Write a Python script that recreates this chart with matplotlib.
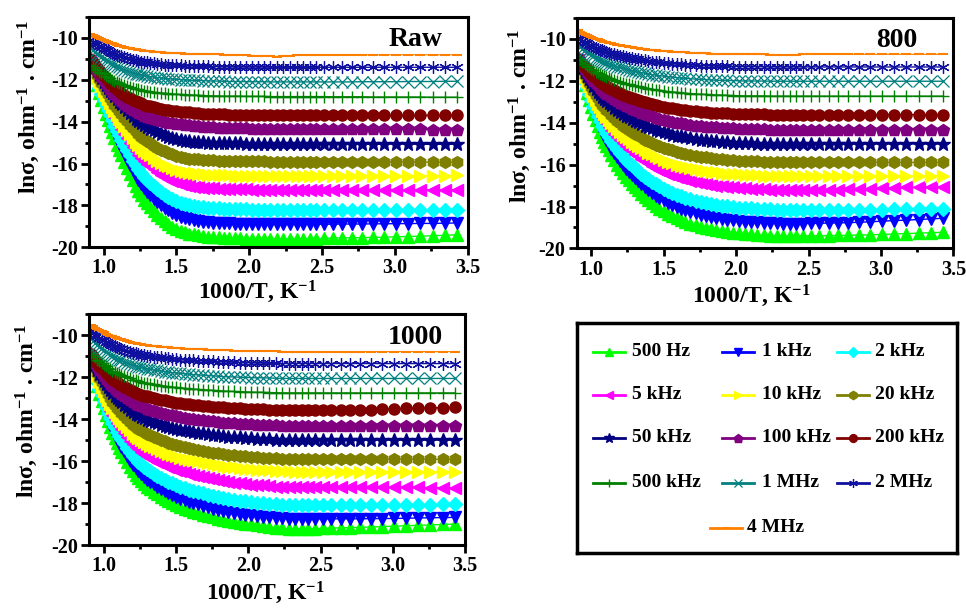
import matplotlib
matplotlib.use('Agg')
import matplotlib.pyplot as plt
from matplotlib.ticker import MultipleLocator

plt.rcParams['font.family'] = ['Liberation Serif', 'DejaVu Serif']
plt.rcParams['font.weight'] = 'bold'
plt.rcParams['mathtext.fontset'] = 'custom'
plt.rcParams['mathtext.rm'] = 'Liberation Serif:bold'
plt.rcParams['mathtext.it'] = 'Liberation Serif:bold:italic'
plt.rcParams['mathtext.bf'] = 'Liberation Serif:bold'
plt.rcParams['mathtext.default'] = 'rm'
plt.rcParams['axes.unicode_minus'] = False

# ---------------- data ----------------
inv_T = [0.91, 0.925, 0.94, 0.955, 0.97, 0.985, 1.00, 1.015, 1.03, 1.045,
         1.06, 1.075, 1.09, 1.105, 1.12, 1.14, 1.16, 1.18, 1.20, 1.22,
         1.24, 1.26, 1.28, 1.30, 1.32, 1.345, 1.37, 1.395, 1.42, 1.445,
         1.47, 1.50, 1.53, 1.56, 1.59, 1.62, 1.65, 1.685, 1.72, 1.755,
         1.79, 1.825, 1.86, 1.90, 1.94, 1.98, 2.02, 2.06, 2.10, 2.145,
         2.19, 2.235, 2.28, 2.325, 2.37, 2.415, 2.46, 2.515, 2.575, 2.64,
         2.705, 2.775, 2.85, 2.925, 3.005, 3.09, 3.175, 3.26, 3.345, 3.43]

freq_labels = ['500 Hz', '1 kHz', '2 kHz', '5 kHz', '10 kHz', '20 kHz', '50 kHz',
               '100 kHz', '200 kHz', '500 kHz', '1 MHz', '2 MHz', '4 MHz']
panel_labels = ['Raw', '800', '1000']

# ---- Raw ----
raw_500hz = [-11.10, -11.49, -11.87, -12.25, -12.63, -12.97, -13.31, -13.61, -13.91, -14.21,
             -14.50, -14.80, -15.10, -15.36, -15.61, -15.91, -16.20, -16.50, -16.80, -17.06,
             -17.31, -17.52, -17.73, -17.90, -18.07, -18.27, -18.45, -18.61, -18.75, -18.89,
             -19.01, -19.12, -19.22, -19.29, -19.35, -19.39, -19.43, -19.46, -19.49, -19.51,
             -19.53, -19.55, -19.56, -19.57, -19.57, -19.59, -19.60, -19.60, -19.60, -19.61,
             -19.61, -19.61, -19.60, -19.60, -19.60, -19.60, -19.59, -19.58, -19.56, -19.55,
             -19.55, -19.54, -19.53, -19.52, -19.50, -19.49, -19.47, -19.45, -19.43, -19.40]
raw_1khz = [-11.10, -11.45, -11.80, -12.15, -12.50, -12.82, -13.13, -13.40, -13.67, -13.95,
            -14.22, -14.50, -14.77, -15.00, -15.23, -15.51, -15.78, -16.06, -16.33, -16.56,
            -16.79, -16.99, -17.18, -17.34, -17.50, -17.68, -17.85, -17.99, -18.12, -18.24,
            -18.35, -18.45, -18.55, -18.61, -18.67, -18.71, -18.74, -18.77, -18.80, -18.82,
            -18.84, -18.85, -18.86, -18.87, -18.88, -18.89, -18.90, -18.90, -18.90, -18.91,
            -18.91, -18.91, -18.91, -18.91, -18.90, -18.90, -18.90, -18.90, -18.90, -18.89,
            -18.89, -18.89, -18.88, -18.88, -18.87, -18.87, -18.86, -18.86, -18.85, -18.84]
raw_2khz = [-11.10, -11.42, -11.74, -12.06, -12.38, -12.67, -12.95, -13.20, -13.44, -13.69,
            -13.94, -14.19, -14.44, -14.65, -14.86, -15.11, -15.36, -15.61, -15.86, -16.07,
            -16.28, -16.46, -16.64, -16.78, -16.92, -17.08, -17.24, -17.37, -17.49, -17.60,
            -17.70, -17.79, -17.88, -17.94, -17.99, -18.03, -18.06, -18.09, -18.11, -18.13,
            -18.14, -18.15, -18.16, -18.17, -18.18, -18.19, -18.20, -18.20, -18.20, -18.20,
            -18.20, -18.21, -18.21, -18.21, -18.21, -18.21, -18.20, -18.20, -18.20, -18.20,
            -18.20, -18.20, -18.20, -18.20, -18.20, -18.20, -18.20, -18.20, -18.20, -18.20]
raw_5khz = [-11.10, -11.38, -11.65, -11.93, -12.21, -12.46, -12.70, -12.92, -13.13, -13.35,
            -13.56, -13.78, -13.99, -14.18, -14.36, -14.58, -14.79, -15.01, -15.22, -15.41,
            -15.59, -15.75, -15.90, -16.02, -16.14, -16.28, -16.42, -16.53, -16.64, -16.73,
            -16.82, -16.90, -16.97, -17.02, -17.07, -17.10, -17.13, -17.15, -17.17, -17.19,
            -17.20, -17.21, -17.22, -17.23, -17.23, -17.24, -17.25, -17.25, -17.25, -17.26,
            -17.26, -17.26, -17.26, -17.26, -17.26, -17.26, -17.25, -17.25, -17.25, -17.25,
            -17.25, -17.25, -17.25, -17.25, -17.25, -17.25, -17.25, -17.25, -17.25, -17.25]
raw_10khz = [-11.10, -11.35, -11.60, -11.85, -12.09, -12.31, -12.53, -12.73, -12.92, -13.11,
             -13.30, -13.50, -13.69, -13.86, -14.02, -14.21, -14.40, -14.60, -14.79, -14.96,
             -15.12, -15.26, -15.39, -15.50, -15.61, -15.74, -15.86, -15.96, -16.05, -16.14,
             -16.22, -16.29, -16.35, -16.40, -16.44, -16.47, -16.49, -16.51, -16.53, -16.55,
             -16.56, -16.57, -16.57, -16.58, -16.58, -16.59, -16.60, -16.60, -16.60, -16.60,
             -16.60, -16.60, -16.60, -16.60, -16.60, -16.60, -16.60, -16.60, -16.60, -16.60,
             -16.60, -16.60, -16.60, -16.60, -16.59, -16.59, -16.58, -16.58, -16.58, -16.57]
raw_20khz = [-11.10, -11.32, -11.53, -11.75, -11.96, -12.16, -12.35, -12.52, -12.68, -12.85,
             -13.02, -13.19, -13.36, -13.50, -13.64, -13.81, -13.98, -14.15, -14.32, -14.46,
             -14.60, -14.72, -14.84, -14.94, -15.04, -15.15, -15.25, -15.34, -15.42, -15.49,
             -15.56, -15.62, -15.68, -15.72, -15.76, -15.78, -15.80, -15.82, -15.84, -15.85,
             -15.86, -15.87, -15.88, -15.89, -15.89, -15.90, -15.90, -15.90, -15.90, -15.91,
             -15.91, -15.91, -15.91, -15.91, -15.91, -15.91, -15.91, -15.91, -15.91, -15.91,
             -15.92, -15.92, -15.92, -15.92, -15.92, -15.92, -15.93, -15.93, -15.93, -15.93]
raw_50khz = [-11.05, -11.23, -11.41, -11.59, -11.77, -11.93, -12.09, -12.23, -12.37, -12.51,
             -12.65, -12.79, -12.93, -13.05, -13.17, -13.31, -13.45, -13.59, -13.73, -13.85,
             -13.97, -14.07, -14.17, -14.25, -14.33, -14.42, -14.51, -14.58, -14.65, -14.71,
             -14.77, -14.82, -14.87, -14.90, -14.93, -14.95, -14.97, -14.99, -15.00, -15.01,
             -15.02, -15.03, -15.03, -15.04, -15.04, -15.05, -15.05, -15.05, -15.05, -15.05,
             -15.05, -15.05, -15.05, -15.06, -15.06, -15.06, -15.06, -15.06, -15.06, -15.06,
             -15.06, -15.07, -15.07, -15.07, -15.07, -15.07, -15.08, -15.08, -15.08, -15.08]
raw_100khz = [-11.05, -11.22, -11.39, -11.56, -11.72, -11.88, -12.03, -12.17, -12.30, -12.44,
              -12.58, -12.70, -12.82, -12.93, -13.03, -13.14, -13.25, -13.34, -13.43, -13.51,
              -13.59, -13.65, -13.71, -13.77, -13.83, -13.88, -13.92, -13.97, -14.01, -14.04,
              -14.07, -14.10, -14.13, -14.16, -14.18, -14.20, -14.21, -14.23, -14.25, -14.27,
              -14.28, -14.29, -14.30, -14.31, -14.31, -14.32, -14.33, -14.34, -14.34, -14.35,
              -14.35, -14.35, -14.35, -14.35, -14.35, -14.36, -14.36, -14.36, -14.36, -14.36,
              -14.36, -14.36, -14.37, -14.37, -14.37, -14.37, -14.37, -14.38, -14.38, -14.38]
raw_200khz = [-11.00, -11.14, -11.28, -11.42, -11.55, -11.68, -11.80, -11.91, -12.02, -12.14,
              -12.25, -12.35, -12.45, -12.54, -12.62, -12.71, -12.80, -12.88, -12.95, -13.02,
              -13.08, -13.13, -13.18, -13.23, -13.27, -13.31, -13.35, -13.39, -13.42, -13.45,
              -13.47, -13.50, -13.52, -13.54, -13.56, -13.58, -13.59, -13.61, -13.62, -13.63,
              -13.64, -13.65, -13.66, -13.67, -13.67, -13.68, -13.68, -13.69, -13.69, -13.70,
              -13.70, -13.70, -13.70, -13.70, -13.70, -13.70, -13.70, -13.70, -13.70, -13.70,
              -13.70, -13.70, -13.70, -13.70, -13.70, -13.70, -13.70, -13.70, -13.70, -13.70]
raw_500khz = [-11.30, -11.38, -11.46, -11.54, -11.61, -11.68, -11.74, -11.81, -11.87, -11.93,
              -11.99, -12.05, -12.11, -12.16, -12.20, -12.25, -12.30, -12.34, -12.38, -12.42,
              -12.46, -12.49, -12.51, -12.54, -12.56, -12.59, -12.61, -12.63, -12.64, -12.66,
              -12.67, -12.69, -12.70, -12.71, -12.72, -12.73, -12.74, -12.75, -12.76, -12.77,
              -12.77, -12.78, -12.78, -12.78, -12.78, -12.79, -12.79, -12.79, -12.79, -12.80,
              -12.80, -12.80, -12.80, -12.80, -12.80, -12.80, -12.80, -12.80, -12.81, -12.81,
              -12.81, -12.81, -12.82, -12.82, -12.82, -12.82, -12.82, -12.83, -12.83, -12.83]
raw_1mhz = [-10.50, -10.59, -10.67, -10.75, -10.83, -10.90, -10.97, -11.04, -11.11, -11.18,
            -11.24, -11.30, -11.36, -11.41, -11.46, -11.52, -11.57, -11.62, -11.66, -11.70,
            -11.73, -11.76, -11.79, -11.82, -11.85, -11.87, -11.89, -11.91, -11.93, -11.95,
            -11.96, -11.98, -11.99, -12.01, -12.02, -12.03, -12.03, -12.04, -12.05, -12.06,
            -12.06, -12.07, -12.08, -12.08, -12.08, -12.09, -12.09, -12.09, -12.09, -12.10,
            -12.10, -12.10, -12.10, -12.10, -12.10, -12.10, -12.10, -12.10, -12.10, -12.10,
            -12.10, -12.09, -12.09, -12.09, -12.09, -12.08, -12.08, -12.08, -12.07, -12.07]
raw_2mhz = [-10.10, -10.17, -10.24, -10.31, -10.37, -10.43, -10.49, -10.54, -10.59, -10.65,
            -10.70, -10.75, -10.80, -10.84, -10.88, -10.93, -10.97, -11.01, -11.04, -11.07,
            -11.10, -11.13, -11.15, -11.17, -11.19, -11.21, -11.23, -11.25, -11.27, -11.28,
            -11.29, -11.30, -11.31, -11.32, -11.33, -11.34, -11.35, -11.36, -11.36, -11.37,
            -11.37, -11.38, -11.38, -11.39, -11.39, -11.39, -11.39, -11.39, -11.39, -11.40,
            -11.40, -11.40, -11.40, -11.40, -11.40, -11.40, -11.40, -11.40, -11.40, -11.40,
            -11.40, -11.40, -11.40, -11.40, -11.40, -11.40, -11.40, -11.40, -11.40, -11.40]
raw_4mhz = [-9.80, -9.85, -9.90, -9.94, -9.98, -10.04, -10.10, -10.14, -10.18, -10.22,
            -10.26, -10.30, -10.34, -10.37, -10.40, -10.44, -10.47, -10.50, -10.52, -10.55,
            -10.57, -10.59, -10.61, -10.63, -10.64, -10.66, -10.67, -10.69, -10.70, -10.71,
            -10.72, -10.73, -10.74, -10.75, -10.75, -10.76, -10.76, -10.77, -10.77, -10.78,
            -10.78, -10.79, -10.80, -10.81, -10.82, -10.83, -10.84, -10.85, -10.85, -10.88,
            -10.90, -10.87, -10.84, -10.83, -10.82, -10.81, -10.80, -10.80, -10.80, -10.80,
            -10.80, -10.80, -10.80, -10.80, -10.80, -10.80, -10.80, -10.80, -10.80, -10.80]

# ---- 800 ----
s800_500hz = [-11.00, -11.43, -11.84, -12.23, -12.60, -12.94, -13.27, -13.59, -13.90, -14.18,
              -14.44, -14.68, -14.91, -15.12, -15.33, -15.56, -15.79, -16.00, -16.21, -16.40,
              -16.59, -16.76, -16.92, -17.07, -17.22, -17.39, -17.55, -17.70, -17.85, -17.98,
              -18.10, -18.23, -18.35, -18.46, -18.56, -18.65, -18.73, -18.82, -18.90, -18.96,
              -19.02, -19.08, -19.13, -19.18, -19.22, -19.25, -19.28, -19.31, -19.33, -19.35,
              -19.37, -19.39, -19.40, -19.41, -19.41, -19.41, -19.41, -19.40, -19.40, -19.39,
              -19.38, -19.37, -19.36, -19.35, -19.33, -19.31, -19.29, -19.27, -19.25, -19.23]
s800_1khz = [-11.00, -11.40, -11.78, -12.14, -12.48, -12.80, -13.11, -13.41, -13.69, -13.95,
             -14.20, -14.42, -14.63, -14.83, -15.02, -15.24, -15.45, -15.65, -15.84, -16.02,
             -16.19, -16.35, -16.50, -16.64, -16.77, -16.93, -17.08, -17.22, -17.36, -17.48,
             -17.59, -17.71, -17.83, -17.93, -18.02, -18.10, -18.18, -18.26, -18.33, -18.39,
             -18.45, -18.50, -18.55, -18.59, -18.63, -18.66, -18.69, -18.72, -18.74, -18.76,
             -18.77, -18.79, -18.80, -18.81, -18.81, -18.81, -18.81, -18.80, -18.80, -18.79,
             -18.78, -18.77, -18.75, -18.73, -18.70, -18.67, -18.65, -18.62, -18.59, -18.56]
s800_2khz = [-11.00, -11.37, -11.72, -12.05, -12.36, -12.65, -12.93, -13.21, -13.47, -13.71,
             -13.93, -14.14, -14.33, -14.51, -14.68, -14.89, -15.08, -15.26, -15.43, -15.60,
             -15.76, -15.91, -16.04, -16.17, -16.29, -16.44, -16.58, -16.71, -16.83, -16.94,
             -17.04, -17.15, -17.26, -17.35, -17.44, -17.51, -17.58, -17.65, -17.72, -17.78,
             -17.83, -17.88, -17.92, -17.96, -17.99, -18.02, -18.05, -18.07, -18.09, -18.11,
             -18.12, -18.14, -18.15, -18.15, -18.15, -18.16, -18.16, -18.16, -18.16, -18.16,
             -18.15, -18.15, -18.15, -18.15, -18.15, -18.14, -18.14, -18.14, -18.13, -18.13]
s800_5khz = [-11.00, -11.32, -11.62, -11.91, -12.18, -12.43, -12.67, -12.91, -13.14, -13.35,
             -13.54, -13.72, -13.88, -14.04, -14.19, -14.37, -14.53, -14.69, -14.84, -14.98,
             -15.12, -15.25, -15.37, -15.48, -15.59, -15.72, -15.84, -15.95, -16.05, -16.15,
             -16.24, -16.34, -16.43, -16.51, -16.58, -16.64, -16.70, -16.77, -16.83, -16.88,
             -16.92, -16.96, -17.00, -17.03, -17.06, -17.09, -17.11, -17.13, -17.15, -17.17,
             -17.18, -17.19, -17.20, -17.21, -17.21, -17.21, -17.21, -17.21, -17.21, -17.20,
             -17.19, -17.18, -17.17, -17.15, -17.13, -17.11, -17.09, -17.08, -17.06, -17.05]
s800_10khz = [-11.00, -11.29, -11.56, -11.81, -12.05, -12.28, -12.50, -12.71, -12.92, -13.10,
              -13.28, -13.43, -13.58, -13.72, -13.86, -14.01, -14.16, -14.30, -14.44, -14.57,
              -14.69, -14.80, -14.91, -15.01, -15.11, -15.22, -15.33, -15.43, -15.52, -15.61,
              -15.69, -15.78, -15.86, -15.93, -16.00, -16.06, -16.11, -16.17, -16.22, -16.26,
              -16.30, -16.34, -16.37, -16.40, -16.43, -16.45, -16.47, -16.49, -16.51, -16.52,
              -16.53, -16.54, -16.55, -16.55, -16.55, -16.55, -16.55, -16.55, -16.55, -16.55,
              -16.55, -16.55, -16.55, -16.55, -16.55, -16.55, -16.54, -16.54, -16.54, -16.54]
s800_20khz = [-11.00, -11.25, -11.49, -11.72, -11.93, -12.13, -12.32, -12.50, -12.68, -12.84,
              -13.00, -13.14, -13.27, -13.39, -13.51, -13.65, -13.78, -13.91, -14.03, -14.14,
              -14.25, -14.35, -14.44, -14.53, -14.61, -14.71, -14.81, -14.90, -14.98, -15.05,
              -15.12, -15.20, -15.27, -15.33, -15.39, -15.44, -15.49, -15.54, -15.59, -15.63,
              -15.66, -15.69, -15.72, -15.75, -15.77, -15.79, -15.81, -15.83, -15.84, -15.85,
              -15.86, -15.87, -15.88, -15.88, -15.88, -15.88, -15.88, -15.88, -15.88, -15.88,
              -15.89, -15.89, -15.89, -15.89, -15.89, -15.90, -15.90, -15.90, -15.90, -15.90]
s800_50khz = [-11.00, -11.20, -11.40, -11.58, -11.76, -11.93, -12.09, -12.24, -12.39, -12.52,
              -12.65, -12.76, -12.87, -12.97, -13.07, -13.18, -13.29, -13.39, -13.49, -13.58,
              -13.67, -13.75, -13.83, -13.91, -13.98, -14.06, -14.14, -14.21, -14.28, -14.34,
              -14.40, -14.46, -14.52, -14.57, -14.62, -14.66, -14.70, -14.74, -14.78, -14.81,
              -14.84, -14.87, -14.89, -14.91, -14.93, -14.95, -14.96, -14.98, -14.99, -15.00,
              -15.00, -15.01, -15.02, -15.02, -15.02, -15.02, -15.02, -15.02, -15.02, -15.02,
              -15.02, -15.02, -15.02, -15.02, -15.02, -15.02, -15.02, -15.02, -15.02, -15.02]
s800_100khz = [-10.95, -11.12, -11.29, -11.44, -11.59, -11.73, -11.87, -12.00, -12.12, -12.23,
               -12.34, -12.44, -12.53, -12.62, -12.70, -12.79, -12.88, -12.97, -13.05, -13.13,
               -13.20, -13.27, -13.34, -13.40, -13.46, -13.53, -13.59, -13.65, -13.71, -13.77,
               -13.82, -13.87, -13.92, -13.96, -14.00, -14.04, -14.07, -14.11, -14.14, -14.17,
               -14.19, -14.21, -14.23, -14.25, -14.27, -14.28, -14.29, -14.30, -14.31, -14.32,
               -14.33, -14.34, -14.34, -14.34, -14.34, -14.34, -14.34, -14.34, -14.34, -14.34,
               -14.34, -14.34, -14.34, -14.34, -14.34, -14.34, -14.34, -14.34, -14.34, -14.34]
s800_200khz = [-10.95, -11.09, -11.22, -11.34, -11.46, -11.57, -11.67, -11.77, -11.87, -11.96,
               -12.05, -12.12, -12.19, -12.26, -12.33, -12.40, -12.47, -12.54, -12.61, -12.67,
               -12.73, -12.78, -12.83, -12.88, -12.93, -12.98, -13.03, -13.08, -13.13, -13.17,
               -13.21, -13.25, -13.29, -13.32, -13.35, -13.38, -13.41, -13.44, -13.46, -13.48,
               -13.50, -13.52, -13.54, -13.55, -13.56, -13.57, -13.58, -13.59, -13.60, -13.61,
               -13.61, -13.62, -13.62, -13.62, -13.62, -13.62, -13.62, -13.62, -13.62, -13.62,
               -13.62, -13.62, -13.62, -13.62, -13.62, -13.62, -13.62, -13.62, -13.62, -13.62]
s800_500khz = [-10.95, -11.04, -11.13, -11.21, -11.29, -11.36, -11.43, -11.50, -11.57, -11.63,
               -11.68, -11.73, -11.78, -11.83, -11.87, -11.92, -11.97, -12.02, -12.06, -12.10,
               -12.14, -12.18, -12.21, -12.25, -12.28, -12.32, -12.35, -12.38, -12.41, -12.44,
               -12.46, -12.49, -12.52, -12.54, -12.56, -12.58, -12.60, -12.62, -12.63, -12.65,
               -12.66, -12.67, -12.68, -12.69, -12.70, -12.71, -12.72, -12.73, -12.73, -12.73,
               -12.73, -12.74, -12.74, -12.74, -12.74, -12.74, -12.74, -12.74, -12.74, -12.74,
               -12.74, -12.74, -12.74, -12.74, -12.74, -12.74, -12.74, -12.74, -12.74, -12.74]
s800_1mhz = [-10.30, -10.39, -10.47, -10.55, -10.63, -10.70, -10.77, -10.84, -10.90, -10.96,
             -11.01, -11.06, -11.10, -11.15, -11.19, -11.24, -11.29, -11.33, -11.37, -11.41,
             -11.45, -11.49, -11.52, -11.55, -11.58, -11.62, -11.65, -11.68, -11.71, -11.74,
             -11.76, -11.79, -11.81, -11.84, -11.86, -11.88, -11.89, -11.91, -11.93, -11.94,
             -11.95, -11.97, -11.98, -11.99, -11.99, -12.00, -12.01, -12.02, -12.02, -12.02,
             -12.02, -12.03, -12.03, -12.03, -12.03, -12.03, -12.03, -12.03, -12.03, -12.03,
             -12.03, -12.03, -12.03, -12.03, -12.03, -12.03, -12.03, -12.03, -12.03, -12.03]
s800_2mhz = [-9.95, -10.02, -10.09, -10.16, -10.22, -10.28, -10.33, -10.38, -10.43, -10.48,
             -10.52, -10.56, -10.60, -10.64, -10.67, -10.71, -10.75, -10.79, -10.82, -10.85,
             -10.88, -10.91, -10.94, -10.97, -10.99, -11.02, -11.04, -11.07, -11.09, -11.11,
             -11.13, -11.16, -11.18, -11.20, -11.21, -11.23, -11.24, -11.26, -11.27, -11.28,
             -11.29, -11.30, -11.31, -11.32, -11.32, -11.33, -11.33, -11.34, -11.34, -11.34,
             -11.34, -11.35, -11.35, -11.35, -11.35, -11.35, -11.35, -11.35, -11.35, -11.35,
             -11.35, -11.35, -11.35, -11.35, -11.35, -11.35, -11.35, -11.35, -11.35, -11.35]
s800_4mhz = [-9.60, -9.66, -9.72, -9.77, -9.82, -9.87, -9.91, -9.96, -10.00, -10.04,
             -10.07, -10.11, -10.14, -10.17, -10.19, -10.23, -10.26, -10.29, -10.31, -10.34,
             -10.37, -10.39, -10.41, -10.43, -10.45, -10.48, -10.50, -10.52, -10.54, -10.56,
             -10.57, -10.59, -10.61, -10.63, -10.64, -10.65, -10.66, -10.67, -10.68, -10.69,
             -10.70, -10.71, -10.71, -10.72, -10.73, -10.73, -10.73, -10.74, -10.74, -10.75,
             -10.75, -10.76, -10.77, -10.77, -10.76, -10.76, -10.75, -10.75, -10.75, -10.75,
             -10.75, -10.75, -10.75, -10.75, -10.75, -10.75, -10.75, -10.75, -10.75, -10.75]

# ---- 1000 ----
s1000_500hz = [-11.10, -11.56, -11.99, -12.40, -12.80, -13.13, -13.45, -13.78, -14.10, -14.38,
               -14.66, -14.91, -15.15, -15.36, -15.56, -15.80, -16.04, -16.27, -16.49, -16.65,
               -16.81, -16.95, -17.09, -17.22, -17.34, -17.46, -17.58, -17.70, -17.81, -17.91,
               -18.00, -18.10, -18.19, -18.27, -18.35, -18.41, -18.47, -18.55, -18.62, -18.68,
               -18.74, -18.80, -18.85, -18.90, -18.94, -18.98, -19.02, -19.06, -19.10, -19.14,
               -19.17, -19.20, -19.22, -19.23, -19.24, -19.23, -19.22, -19.21, -19.19, -19.18,
               -19.17, -19.15, -19.14, -19.12, -19.10, -19.08, -19.06, -19.04, -19.02, -19.00]
s1000_1khz = [-11.10, -11.53, -11.94, -12.33, -12.71, -13.02, -13.32, -13.63, -13.93, -14.20,
              -14.47, -14.70, -14.93, -15.12, -15.31, -15.54, -15.77, -15.98, -16.19, -16.34,
              -16.49, -16.63, -16.76, -16.88, -16.99, -17.11, -17.22, -17.33, -17.43, -17.53,
              -17.62, -17.71, -17.79, -17.87, -17.95, -18.01, -18.06, -18.13, -18.20, -18.26,
              -18.31, -18.37, -18.42, -18.47, -18.51, -18.55, -18.58, -18.61, -18.64, -18.67,
              -18.70, -18.72, -18.74, -18.75, -18.75, -18.75, -18.75, -18.75, -18.75, -18.75,
              -18.75, -18.75, -18.74, -18.74, -18.73, -18.72, -18.71, -18.70, -18.69, -18.68]
s1000_2khz = [-11.10, -11.49, -11.87, -12.23, -12.57, -12.85, -13.13, -13.41, -13.69, -13.94,
              -14.18, -14.39, -14.60, -14.78, -14.95, -15.16, -15.37, -15.57, -15.76, -15.90,
              -16.04, -16.16, -16.28, -16.39, -16.49, -16.60, -16.70, -16.80, -16.90, -16.98,
              -17.06, -17.15, -17.23, -17.30, -17.37, -17.42, -17.47, -17.54, -17.60, -17.65,
              -17.70, -17.75, -17.80, -17.84, -17.88, -17.92, -17.95, -17.98, -18.00, -18.03,
              -18.05, -18.07, -18.09, -18.10, -18.10, -18.10, -18.10, -18.10, -18.10, -18.10,
              -18.09, -18.09, -18.09, -18.08, -18.08, -18.07, -18.07, -18.07, -18.06, -18.06]
s1000_5khz = [-11.10, -11.45, -11.78, -12.09, -12.39, -12.64, -12.88, -13.13, -13.38, -13.60,
              -13.81, -14.00, -14.18, -14.33, -14.48, -14.67, -14.85, -15.02, -15.19, -15.32,
              -15.44, -15.55, -15.65, -15.75, -15.84, -15.93, -16.02, -16.11, -16.19, -16.27,
              -16.34, -16.41, -16.48, -16.54, -16.60, -16.65, -16.70, -16.76, -16.81, -16.86,
              -16.90, -16.95, -16.99, -17.02, -17.05, -17.09, -17.12, -17.14, -17.16, -17.19,
              -17.21, -17.23, -17.24, -17.25, -17.25, -17.25, -17.25, -17.25, -17.25, -17.25,
              -17.25, -17.25, -17.25, -17.25, -17.25, -17.25, -17.25, -17.26, -17.26, -17.27]
s1000_10khz = [-11.10, -11.40, -11.69, -11.96, -12.23, -12.45, -12.67, -12.89, -13.10, -13.29,
               -13.48, -13.64, -13.80, -13.94, -14.07, -14.23, -14.39, -14.54, -14.69, -14.80,
               -14.91, -15.01, -15.10, -15.18, -15.26, -15.34, -15.42, -15.50, -15.57, -15.64,
               -15.70, -15.77, -15.83, -15.88, -15.93, -15.97, -16.01, -16.06, -16.11, -16.15,
               -16.19, -16.23, -16.27, -16.30, -16.33, -16.36, -16.38, -16.40, -16.42, -16.44,
               -16.46, -16.48, -16.49, -16.50, -16.50, -16.50, -16.50, -16.50, -16.50, -16.50,
               -16.50, -16.50, -16.50, -16.50, -16.50, -16.50, -16.50, -16.50, -16.50, -16.50]
s1000_20khz = [-11.00, -11.28, -11.54, -11.79, -12.03, -12.23, -12.42, -12.62, -12.81, -12.99,
               -13.16, -13.31, -13.45, -13.58, -13.70, -13.85, -13.99, -14.13, -14.26, -14.36,
               -14.45, -14.54, -14.63, -14.70, -14.77, -14.85, -14.92, -14.99, -15.06, -15.12,
               -15.18, -15.24, -15.29, -15.34, -15.39, -15.43, -15.46, -15.51, -15.55, -15.59,
               -15.62, -15.66, -15.69, -15.72, -15.74, -15.77, -15.79, -15.81, -15.83, -15.85,
               -15.87, -15.88, -15.89, -15.90, -15.90, -15.90, -15.90, -15.90, -15.90, -15.90,
               -15.90, -15.90, -15.90, -15.90, -15.90, -15.90, -15.90, -15.91, -15.91, -15.92]
s1000_50khz = [-11.00, -11.23, -11.44, -11.65, -11.84, -12.00, -12.16, -12.32, -12.48, -12.62,
               -12.76, -12.88, -13.00, -13.10, -13.20, -13.32, -13.44, -13.55, -13.66, -13.74,
               -13.82, -13.89, -13.96, -14.02, -14.08, -14.14, -14.20, -14.26, -14.31, -14.36,
               -14.41, -14.46, -14.50, -14.54, -14.58, -14.61, -14.64, -14.68, -14.71, -14.74,
               -14.77, -14.80, -14.83, -14.85, -14.87, -14.89, -14.91, -14.93, -14.94, -14.96,
               -14.97, -14.98, -14.99, -15.00, -15.00, -15.00, -15.00, -15.00, -15.00, -15.00,
               -15.00, -15.00, -15.00, -15.00, -15.00, -15.00, -15.00, -15.00, -15.00, -15.00]
s1000_100khz = [-10.95, -11.14, -11.32, -11.49, -11.66, -11.80, -11.93, -12.07, -12.20, -12.32,
                -12.43, -12.54, -12.64, -12.72, -12.80, -12.91, -13.01, -13.10, -13.19, -13.26,
                -13.33, -13.39, -13.44, -13.50, -13.55, -13.60, -13.65, -13.70, -13.74, -13.78,
                -13.82, -13.86, -13.90, -13.94, -13.97, -14.00, -14.02, -14.05, -14.08, -14.11,
                -14.13, -14.16, -14.18, -14.20, -14.21, -14.23, -14.25, -14.26, -14.27, -14.29,
                -14.30, -14.31, -14.31, -14.32, -14.32, -14.32, -14.32, -14.32, -14.32, -14.32,
                -14.32, -14.32, -14.32, -14.32, -14.32, -14.32, -14.32, -14.32, -14.32, -14.32]
s1000_200khz = [-10.90, -11.05, -11.19, -11.33, -11.46, -11.57, -11.67, -11.78, -11.89, -11.99,
                -12.08, -12.16, -12.24, -12.31, -12.37, -12.45, -12.53, -12.61, -12.68, -12.73,
                -12.78, -12.83, -12.88, -12.92, -12.96, -13.00, -13.04, -13.08, -13.11, -13.15,
                -13.18, -13.21, -13.24, -13.27, -13.29, -13.31, -13.33, -13.36, -13.38, -13.40,
                -13.42, -13.44, -13.46, -13.48, -13.49, -13.50, -13.51, -13.52, -13.53, -13.54,
                -13.55, -13.56, -13.57, -13.57, -13.57, -13.58, -13.58, -13.58, -13.58, -13.57,
                -13.56, -13.55, -13.54, -13.52, -13.50, -13.49, -13.47, -13.46, -13.45, -13.44]
s1000_500khz = [-10.85, -10.96, -11.06, -11.16, -11.25, -11.33, -11.40, -11.48, -11.55, -11.62,
                -11.69, -11.75, -11.80, -11.85, -11.90, -11.96, -12.01, -12.06, -12.11, -12.15,
                -12.19, -12.23, -12.26, -12.29, -12.31, -12.34, -12.37, -12.40, -12.42, -12.45,
                -12.47, -12.49, -12.51, -12.53, -12.55, -12.57, -12.58, -12.60, -12.61, -12.63,
                -12.64, -12.66, -12.67, -12.68, -12.69, -12.70, -12.71, -12.72, -12.72, -12.73,
                -12.74, -12.75, -12.75, -12.75, -12.75, -12.75, -12.75, -12.75, -12.75, -12.75,
                -12.75, -12.75, -12.75, -12.75, -12.75, -12.75, -12.75, -12.75, -12.75, -12.75]
s1000_1mhz = [-10.15, -10.26, -10.36, -10.46, -10.55, -10.63, -10.70, -10.78, -10.86, -10.93,
              -10.99, -11.05, -11.11, -11.16, -11.20, -11.26, -11.32, -11.37, -11.42, -11.46,
              -11.50, -11.53, -11.56, -11.59, -11.62, -11.65, -11.68, -11.71, -11.73, -11.76,
              -11.78, -11.80, -11.82, -11.84, -11.86, -11.88, -11.89, -11.91, -11.92, -11.94,
              -11.95, -11.97, -11.98, -11.99, -12.00, -12.01, -12.02, -12.03, -12.03, -12.04,
              -12.05, -12.06, -12.06, -12.06, -12.06, -12.06, -12.06, -12.06, -12.06, -12.06,
              -12.06, -12.06, -12.06, -12.06, -12.06, -12.06, -12.06, -12.06, -12.06, -12.06]
s1000_2mhz = [-9.80, -9.89, -9.97, -10.05, -10.13, -10.19, -10.25, -10.31, -10.37, -10.43,
              -10.48, -10.53, -10.58, -10.62, -10.65, -10.70, -10.75, -10.79, -10.83, -10.86,
              -10.89, -10.92, -10.95, -10.97, -10.99, -11.02, -11.04, -11.06, -11.08, -11.10,
              -11.12, -11.14, -11.16, -11.18, -11.19, -11.20, -11.21, -11.23, -11.24, -11.25,
              -11.26, -11.27, -11.28, -11.29, -11.30, -11.31, -11.32, -11.33, -11.33, -11.34,
              -11.34, -11.35, -11.35, -11.35, -11.35, -11.35, -11.35, -11.35, -11.35, -11.35,
              -11.35, -11.35, -11.35, -11.35, -11.35, -11.35, -11.35, -11.35, -11.35, -11.35]
s1000_4mhz = [-9.50, -9.57, -9.64, -9.71, -9.77, -9.82, -9.87, -9.92, -9.97, -10.02,
              -10.06, -10.10, -10.14, -10.17, -10.20, -10.24, -10.28, -10.32, -10.35, -10.38,
              -10.40, -10.43, -10.45, -10.47, -10.49, -10.51, -10.52, -10.54, -10.56, -10.58,
              -10.59, -10.61, -10.62, -10.64, -10.65, -10.66, -10.67, -10.68, -10.69, -10.70,
              -10.71, -10.72, -10.72, -10.73, -10.74, -10.75, -10.75, -10.76, -10.76, -10.77,
              -10.77, -10.78, -10.78, -10.78, -10.78, -10.78, -10.78, -10.78, -10.78, -10.78,
              -10.78, -10.78, -10.78, -10.78, -10.78, -10.78, -10.78, -10.78, -10.78, -10.78]

raw_series = [raw_500hz, raw_1khz, raw_2khz, raw_5khz, raw_10khz, raw_20khz, raw_50khz,
              raw_100khz, raw_200khz, raw_500khz, raw_1mhz, raw_2mhz, raw_4mhz]
s800_series = [s800_500hz, s800_1khz, s800_2khz, s800_5khz, s800_10khz, s800_20khz, s800_50khz,
               s800_100khz, s800_200khz, s800_500khz, s800_1mhz, s800_2mhz, s800_4mhz]
s1000_series = [s1000_500hz, s1000_1khz, s1000_2khz, s1000_5khz, s1000_10khz, s1000_20khz,
                s1000_50khz, s1000_100khz, s1000_200khz, s1000_500khz, s1000_1mhz, s1000_2mhz,
                s1000_4mhz]

# ---------------- styles ----------------
colors = ['#00FF00', '#0000FF', '#00FFFF', '#FF00FF', '#FFFF00', '#808000', '#000080',
          '#800080', '#800000', '#008000', '#008080', '#1010A0', '#FF8000']
markers = ['^', 'v', 'D', '<', '>', 'h', '*', 'p', 'o', '+', 'x', (6, 2, 0), '_']
msizes = [8.5, 8.5, 7, 8.5, 8.5, 8.5, 10.5, 9, 8, 9, 8, 9, 6.5]
mews = [1, 1, 1, 1, 1, 1, 1, 1, 1, 1, 0.9, 0.9, 1.5]
lws = [1, 1, 1, 1, 1, 1, 1, 1, 1, 1, 1, 1, 0.8]

fig = plt.figure(figsize=(9.66, 6.09), dpi=100)

axes_rects = [[0.0921, 0.594, 0.392, 0.378],
              [0.597, 0.592, 0.390, 0.379],
              [0.0925, 0.105, 0.389, 0.379]]
ylabel_xy = [(-0.124, 0.609), (-0.116, 0.577), (-0.131, 0.58)]
xlabel_xy = [(0.445, -0.135), (0.463, -0.147), (0.468, -0.152)]
tag_xy = [(0.934, 0.957), (0.903, 0.957), (0.941, 0.952)]

for rect, series, tag, yl, xl, txy in zip(axes_rects, [raw_series, s800_series, s1000_series],
                                         panel_labels, ylabel_xy, xlabel_xy, tag_xy):
    ax = fig.add_axes(rect)
    for vals, c, m, ms, mew, lw in zip(series, colors, markers, msizes, mews, lws):
        ax.plot(inv_T, vals, color=c, marker=m, ms=ms, mew=mew, mec=c, mfc=c, lw=lw)
    ax.set_xlim(0.9, 3.5)
    ax.set_ylim(-20, -9)
    ax.xaxis.set_major_locator(MultipleLocator(0.5))
    ax.xaxis.set_minor_locator(MultipleLocator(0.25))
    ax.yaxis.set_major_locator(MultipleLocator(2))
    ax.yaxis.set_minor_locator(MultipleLocator(1))
    ax.tick_params(which='major', direction='out', length=6, width=2, labelsize=14.5, pad=2)
    ax.tick_params(which='minor', direction='out', length=3, width=2)
    for lab in ax.get_xticklabels() + ax.get_yticklabels():
        lab.set_fontweight('bold')
    for sp in ax.spines.values():
        sp.set_linewidth(2.2)
    ax.set_ylabel('ln\u03c3, ohm$^{-1}$ . cm$^{-1}$', fontsize=17, fontweight='bold')
    ax.yaxis.set_label_coords(*yl)
    ax.set_xlabel('1000/T, K$^{-1}$', fontsize=17, fontweight='bold', va='top')
    ax.xaxis.set_label_coords(*xl)
    ax.text(txy[0], txy[1], tag, transform=ax.transAxes, ha='right', va='top',
            fontsize=20, fontweight='bold')

# ---------------- legend box ----------------
lax = fig.add_axes([0.5977, 0.0915, 0.3927, 0.3787])
lax.set_xlim(0, 1)
lax.set_ylim(0, 1)
lax.set_xticks([])
lax.set_yticks([])
for sp in lax.spines.values():
    sp.set_linewidth(2.5)

row_y = [0.873, 0.6865, 0.500, 0.3049, 0.1097]
col_hx = [0.0414, 0.3814, 0.6845]
col_tx = [0.1442, 0.4869, 0.7848]
hlen = 0.0843
for i, (lab, c, m, ms, mew) in enumerate(zip(freq_labels, colors, markers, msizes, mews)):
    if i < 12:
        r, k = divmod(i, 3)
        hx, tx, y = col_hx[k], col_tx[k], row_y[r]
    else:
        hx, tx, y = 0.3498, 0.4473, row_y[4]
    lax.plot([hx, hx + hlen / 2, hx + hlen], [y, y, y], color=c, lw=2,
             marker=m, markevery=[1], ms=ms * 0.7, mew=mew, mec=c, mfc=c)
    lax.text(tx, y, lab, ha='left', va='center', fontsize=14, fontweight='bold')

fig.savefig('out.png', dpi=100)
